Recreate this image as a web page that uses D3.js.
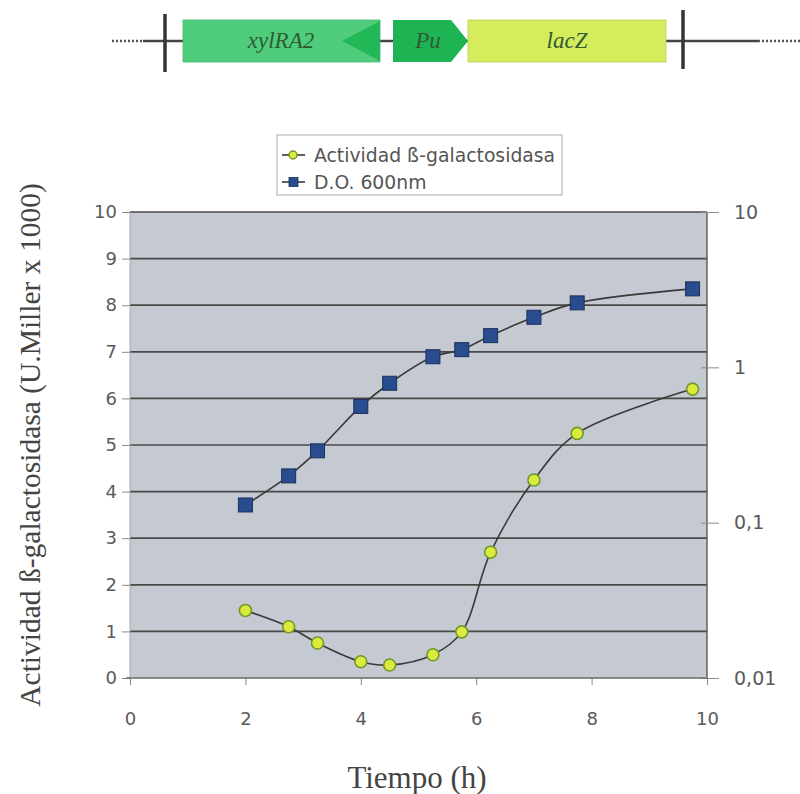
<!DOCTYPE html>
<html>
<head>
<meta charset="utf-8">
<script src="https://cdn.jsdelivr.net/npm/d3@7/dist/d3.min.js"></script>
<style>
  html, body { margin: 0; padding: 0; background: #fff; }
  svg { display: block; }
</style>
</head>
<body>
<svg id="chart" width="800" height="794"></svg>
<script>
// Time points (h)
const tiempo = [2, 2.75, 3.25, 4, 4.5, 5.25, 5.75, 6.25, 7, 7.75, 9.75];
// β-galactosidase activity (Miller units x 1000), left axis
const actividad = [1.45, 1.1, 0.75, 0.35, 0.28, 0.5, 0.99, 2.7, 4.25, 5.25, 6.2];
// Optical density at 600 nm, right (log) axis
const densidad = [0.13, 0.2, 0.29, 0.56, 0.79, 1.17, 1.3, 1.6, 2.1, 2.6, 3.2];

const xTicks = [0, 2, 4, 6, 8, 10];
const leftTicks = [0, 1, 2, 3, 4, 5, 6, 7, 8, 9, 10];
const rightTicks = [0.01, 0.1, 1, 10];
const rightTickLabels = ["0,01", "0,1", "1", "10"];

// Gene map segments along the construct
const genes = [
  { name: "xylRA2", start: 183, end: 380, kind: "reverse" },
  { name: "Pu", start: 393, end: 468, kind: "promoter" },
  { name: "lacZ", start: 468, end: 666, kind: "box" }
];
const series = [
  { label: "Actividad ß-galactosidasa", shape: "circle" },
  { label: "D.O. 600nm", shape: "square" }
];

const svg = d3.select("#chart");
const sans = "'DejaVu Sans', Verdana, sans-serif";
const serif = "'Liberation Serif', 'Times New Roman', serif";

// ---------- gene construct ----------
const gm = svg.append("g");
const gy = 41, gh = 42;
gm.append("line").attr("x1", 112).attr("x2", 143).attr("y1", gy).attr("y2", gy)
  .attr("stroke", "#555").attr("stroke-width", 2.4).attr("stroke-dasharray", "2,2");
gm.append("line").attr("x1", 758).attr("x2", 800).attr("y1", gy).attr("y2", gy)
  .attr("stroke", "#555").attr("stroke-width", 2.4).attr("stroke-dasharray", "2,2");
gm.append("line").attr("x1", 143).attr("x2", 758).attr("y1", gy).attr("y2", gy)
  .attr("stroke", "#444").attr("stroke-width", 2.4);
[[165, 14, 72], [683, 10, 69]].forEach(([x, a, b]) => {
  gm.append("line").attr("x1", x).attr("x2", x).attr("y1", a).attr("y2", b)
    .attr("stroke", "#3a3232").attr("stroke-width", 3.5);
});
genes.forEach(g => {
  const top = gy - gh / 2, bot = gy + gh / 2;
  if (g.kind === "reverse") {
    gm.append("rect").attr("x", g.start).attr("y", top).attr("width", g.end - g.start).attr("height", gh)
      .attr("fill", "#4fcd7c").attr("stroke", "#46b86e").attr("stroke-width", 0.8);
    gm.append("path")
      .attr("d", `M${g.end},${top + 1}L${g.end},${bot - 1}L${g.end - 38},${gy}Z`)
      .attr("fill", "#22b757");
  } else if (g.kind === "promoter") {
    gm.append("path")
      .attr("d", `M${g.start},${top}L${g.end - 17},${top}L${g.end},${gy}L${g.end - 17},${bot}L${g.start},${bot}Z`)
      .attr("fill", "#1fb453");
  } else {
    gm.append("rect").attr("x", g.start).attr("y", top).attr("width", g.end - g.start).attr("height", gh)
      .attr("fill", "#d6ec5c").attr("stroke", "#b9cf55").attr("stroke-width", 0.8);
  }
  const cx = g.kind === "reverse" ? 281 : g.kind === "promoter" ? 428 : (g.start + g.end) / 2;
  gm.append("text").attr("x", cx).attr("y", gy + 7)
    .attr("text-anchor", "middle").attr("font-family", serif).attr("font-style", "italic")
    .attr("font-size", 23).attr("fill", "#2e5b34").text(g.name);
});

// ---------- chart ----------
const X0 = 130, X1 = 707, Y0 = 678, Y1 = 212;
const x = d3.scaleLinear().domain([0, 10]).range([X0, X1]);
const yL = d3.scaleLinear().domain([0, 10]).range([Y0, Y1]);
const yR = d3.scaleLog().domain([0.01, 10]).range([Y0, Y1]);

svg.append("rect").attr("x", X0).attr("y", Y1).attr("width", X1 - X0).attr("height", Y0 - Y1)
  .attr("fill", "#c5c9d1");

// horizontal gridlines
svg.append("g").selectAll("line").data(leftTicks.filter(d => d > 0)).join("line")
  .attr("x1", X0).attr("x2", X1).attr("y1", d => yL(d)).attr("y2", d => yL(d))
  .attr("stroke", "#4b4848").attr("stroke-width", 1.7);

// plot frame
svg.append("line").attr("x1", X0).attr("x2", X0).attr("y1", Y1).attr("y2", Y0)
  .attr("stroke", "#a9a9ad").attr("stroke-width", 1);
svg.append("line").attr("x1", X1).attr("x2", X1).attr("y1", Y1).attr("y2", Y0)
  .attr("stroke", "#5a5858").attr("stroke-width", 1.4);

function styleAxis(g) {
  g.select(".domain").remove();
  g.selectAll(".tick line").attr("stroke", "#8a8a8a").attr("stroke-width", 1);
  g.selectAll(".tick text").attr("fill", "#5a5a5a").attr("font-family", sans).attr("font-size", 18);
}

// left axis
svg.append("g").attr("transform", `translate(${X0},0)`)
  .call(d3.axisLeft(yL).tickValues(leftTicks).tickSize(8).tickPadding(5).tickFormat(d3.format("d")))
  .call(styleAxis);

// right axis (log)
svg.append("g").attr("transform", `translate(${X1 - 6},0)`)
  .call(d3.axisRight(yR).tickValues(rightTicks).tickSize(18).tickPadding(15)
    .tickFormat((d, i) => rightTickLabels[i]))
  .call(styleAxis)
  .call(g => g.selectAll(".tick text").attr("font-size", 19));

// bottom axis
svg.append("g").attr("transform", `translate(0,${Y0})`)
  .call(d3.axisBottom(x).tickValues(xTicks).tickSize(7).tickPadding(27).tickFormat(d3.format("d")))
  .call(styleAxis);
svg.append("line").attr("x1", X0 - 4).attr("x2", X1).attr("y1", Y0).attr("y2", Y0)
  .attr("stroke", "#6a6a6a").attr("stroke-width", 1.4);

// axis titles
svg.append("text").attr("transform", "translate(40,445) rotate(-90)")
  .attr("text-anchor", "middle").attr("font-family", serif).attr("font-size", 29.5)
  .attr("fill", "#444").text("Actividad ß-galactosidasa (U.Miller x 1000)");
svg.append("text").attr("x", 417).attr("y", 788)
  .attr("text-anchor", "middle").attr("font-family", serif).attr("font-size", 31)
  .attr("fill", "#444").text("Tiempo (h)");

// series lines
const lineL = d3.line().x((d, i) => x(tiempo[i])).y(d => yL(d)).curve(d3.curveCatmullRom.alpha(0.5));
const lineR = d3.line().x((d, i) => x(tiempo[i])).y(d => yR(d)).curve(d3.curveCatmullRom.alpha(0.5));

svg.append("path").datum(densidad).attr("d", lineR)
  .attr("fill", "none").attr("stroke", "#3a3a3a").attr("stroke-width", 1.6);
svg.append("path").datum(actividad).attr("d", lineL)
  .attr("fill", "none").attr("stroke", "#3a3a3a").attr("stroke-width", 1.6);

// markers
svg.append("g").selectAll("rect").data(densidad).join("rect")
  .attr("x", (d, i) => x(tiempo[i]) - 7).attr("y", d => yR(d) - 7)
  .attr("width", 14).attr("height", 14)
  .attr("fill", "#284c8e").attr("stroke", "#1c2f5c").attr("stroke-width", 1);
svg.append("g").selectAll("circle").data(actividad).join("circle")
  .attr("cx", (d, i) => x(tiempo[i])).attr("cy", d => yL(d)).attr("r", 6)
  .attr("fill", "#dbea3c").attr("stroke", "#6f9a2a").attr("stroke-width", 1.6);

// legend
const lg = svg.append("g");
lg.append("rect").attr("x", 277).attr("y", 135).attr("width", 285).attr("height", 60)
  .attr("fill", "#fff").attr("stroke", "#aaa").attr("stroke-width", 1);
series.forEach((s, i) => {
  const cy = 155 + i * 27;
  lg.append("line").attr("x1", 282).attr("x2", 305).attr("y1", cy).attr("y2", cy)
    .attr("stroke", "#3a3a3a").attr("stroke-width", 1.6);
  if (s.shape === "circle") {
    lg.append("circle").attr("cx", 293).attr("cy", cy).attr("r", 4)
      .attr("fill", "#dbea3c").attr("stroke", "#6f9a2a").attr("stroke-width", 1.4);
  } else {
    lg.append("rect").attr("x", 289).attr("y", cy - 4.5).attr("width", 9).attr("height", 9)
      .attr("fill", "#284c8e").attr("stroke", "#1c2f5c").attr("stroke-width", 0.8);
  }
  lg.append("text").attr("x", 314).attr("y", cy + 7).attr("font-family", sans).attr("font-size", 18.8)
    .attr("fill", "#555").text(s.label);
});
</script>
</body>
</html>
